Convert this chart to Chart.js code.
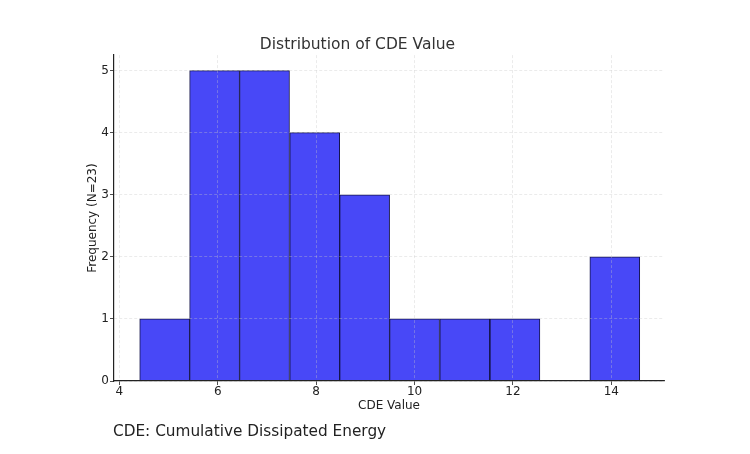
<!DOCTYPE html>
<html lang="en">
<head>
  <meta charset="UTF-8" />
  <title>Distribution of CDE Value</title>
  <script src="https://cdn.jsdelivr.net/npm/chart.js"></script>
  <style>
    body {
      margin: 0;
      background: #fff;
    }

    .wrap {
      position: relative;
      width: 750px;
      height: 454px;
    }

    .caption {
      position: absolute;
      left: 113px;
      top: 422px;
      font-family: 'DejaVu Sans', sans-serif;
      font-size: 15.3px;
      color: #222;
      white-space: nowrap;
    }
  </style>
</head>
<body>
  <div class="wrap">
    <canvas id="histChart" width="750" height="454"></canvas>
    <div class="caption">CDE: Cumulative Dissipated Energy</div>
  </div>

  <script>
    // histogram bins
    const binEdges = [4.41, 5.43, 6.44, 7.46, 8.48, 9.49, 10.51, 11.53, 12.55, 13.56, 14.58];
    const counts = [1, 5, 5, 4, 3, 1, 1, 1, 0, 2];
    const xTicks = [4, 6, 8, 10, 12, 14];
    const yTicks = [0, 1, 2, 3, 4, 5];

    const bars = counts.map((c, i) => ({ x: (binEdges[i] + binEdges[i + 1]) / 2, y: c }));

    const gridColor = 'rgba(200, 200, 200, 0.45)';
    const axisColor = '#222';
    const tickFont = { family: 'DejaVu Sans', size: 12 };

    new Chart(document.getElementById('histChart'), {
      type: 'bar',
      data: {
        datasets: [{
          label: 'CDE Value',
          data: bars,
          backgroundColor: '#4848f7',
          borderColor: '#15154a',
          borderWidth: 1,
          barPercentage: 1,
          categoryPercentage: 1
        }]
      },
      options: {
        responsive: false,
        animation: false,
        layout: { padding: { left: 51, right: 86, top: 36, bottom: 0 } },
        plugins: {
          legend: { display: false },
          tooltip: { enabled: false },
          title: {
            display: true,
            text: 'Distribution of CDE Value',
            color: '#333',
            font: { family: 'DejaVu Sans', size: 15.5, weight: 'normal' },
            padding: { top: 0, bottom: 0.5 }
          }
        },
        scales: {
          x: {
            type: 'linear',
            min: 3.89,
            max: 15.07,
            offset: false,
            afterBuildTicks: s => { s.ticks = xTicks.map(v => ({ value: v })); },
            afterFit: s => { s.height = 73; },
            ticks: { color: axisColor, font: tickFont, padding: 0, maxRotation: 0 },
            grid: {
              offset: false,
              z: 1,
              color: gridColor,
              lineWidth: 0.8,
              tickLength: 4,
              tickColor: axisColor,
              tickBorderDash: []
            },
            border: { color: axisColor, width: 1.2, dash: [3, 2], z: 2 },
            title: {
              display: true,
              text: 'CDE Value',
              color: axisColor,
              font: tickFont,
              padding: { top: 0, bottom: 41 }
            }
          },
          y: {
            min: 0,
            max: 5.25,
            afterBuildTicks: s => { s.ticks = yTicks.map(v => ({ value: v })); },
            afterFit: s => { s.width = 63; },
            ticks: { color: axisColor, font: tickFont, padding: 1 },
            grid: {
              z: 1,
              color: gridColor,
              lineWidth: 0.8,
              tickLength: 4,
              tickColor: axisColor,
              tickBorderDash: []
            },
            border: { color: axisColor, width: 1.2, dash: [3, 2], z: 2 },
            title: {
              display: true,
              text: 'Frequency (N=23)',
              color: axisColor,
              font: tickFont,
              padding: { top: 35, bottom: 0 }
            }
          }
        }
      }
    });
  </script>
</body>
</html>
